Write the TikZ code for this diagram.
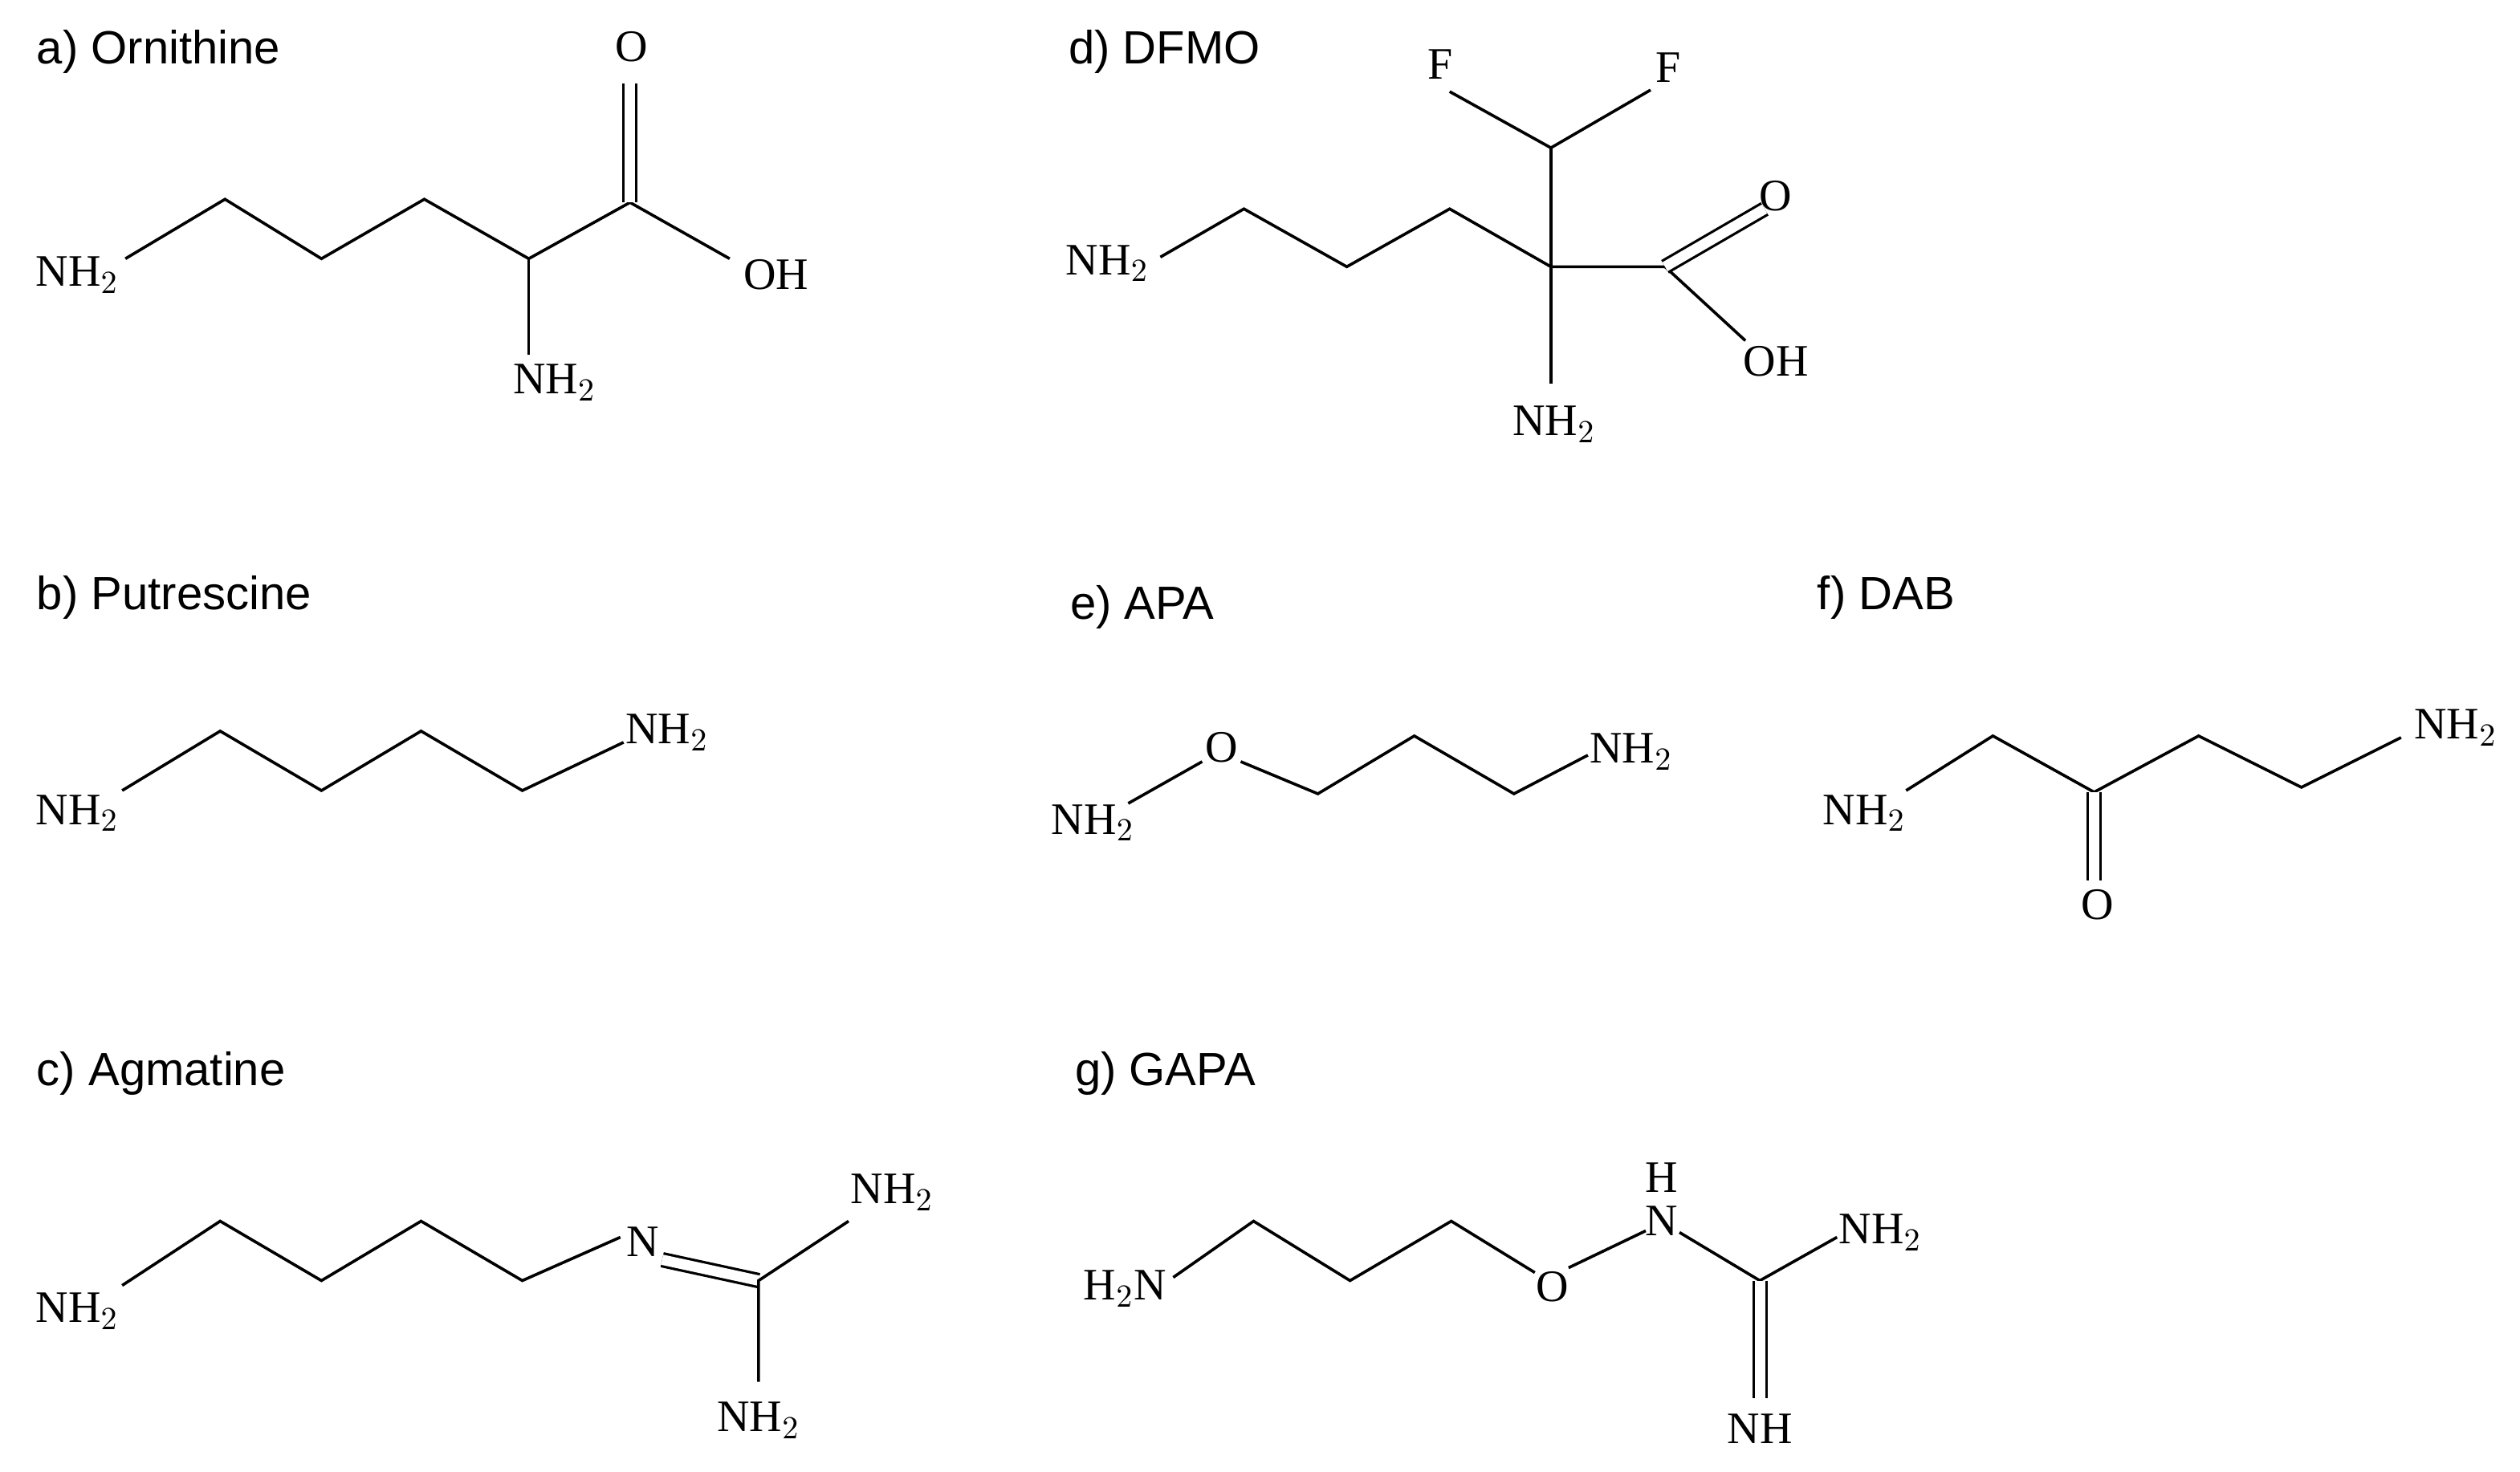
\documentclass[tikz,border=0pt]{standalone}
\usepackage{fontspec}
\setmainfont{Liberation Serif}
\newfontfamily\lblfont{Liberation Sans}
\begin{document}
\begin{tikzpicture}[x=0.5pt,y=-0.5pt,line width=0.9pt,
  atom/.style={inner sep=0pt,font=\fontsize{14}{16}\selectfont},
  lbl/.style={inner sep=0pt,anchor=west,font=\lblfont\fontsize{14.5}{16}\selectfont},
  dbl/.style={double,double distance=3.2pt,line width=0.8pt}]
\useasboundingbox (0,0) rectangle (1568,916);
% a) Ornithine
\node[lbl] (la) at (22,32) {a) Ornithine};
\node[atom] (a1) at (48,171) {NH$_2$};
\node[atom] (aO) at (393,29) {O};
\node[atom] (aOH) at (483,171) {OH};
\node[atom] (aN) at (345,238) {NH$_2$};
\coordinate (a01) at (78,161); \coordinate (a2) at (140,124); \coordinate (a3) at (200,161);
\coordinate (a4) at (264,124); \coordinate (a5) at (329,161); \coordinate (a6) at (392,126);
\coordinate (a7) at (454,161); \coordinate (a8) at (329,221); \coordinate (a9) at (392,52);
\draw (a01)--(a2)--(a3)--(a4)--(a5)--(a6)--(a7);
\draw (a5)--(a8);
\draw[dbl] (a6)--(a9);
% d) DFMO
\node[lbl] (ld) at (664,32) {d) DFMO};
\node[atom] (dF1) at (896,40) {F};
\node[atom] (dF2) at (1038,42) {F};
\node[atom] (dN1) at (689,164) {NH$_2$};
\node[atom] (dO) at (1105,122) {O};
\node[atom] (dOH) at (1105,225) {OH};
\node[atom] (dN2) at (967,264) {NH$_2$};
\coordinate (d1) at (722,160); \coordinate (d2) at (774,130); \coordinate (d3) at (838,166);
\coordinate (d4) at (902,130); \coordinate (dC) at (965,166); \coordinate (dCH) at (965,92);
\coordinate (df1) at (902,57); \coordinate (df2) at (1027,56); \coordinate (dCc) at (1036,166);
\coordinate (dOe) at (1098,130); \coordinate (dOHe) at (1086,212); \coordinate (dNe) at (965,239);
\draw (d1)--(d2)--(d3)--(d4)--(dC)--(dCc)--(dOHe);
\draw (df1)--(dCH)--(df2); \draw (dCH)--(dNe);
\draw[dbl] (dCc)--(dOe);
% b) Putrescine
\node[lbl] (lb) at (22,372) {b) Putrescine};
\node[atom] (b1) at (48,506) {NH$_2$};
\node[atom] (b2) at (415,456) {NH$_2$};
\coordinate (b01) at (76,492); \coordinate (bb2) at (137,455); \coordinate (b3) at (200,492);
\coordinate (b4) at (262,455); \coordinate (b5) at (325,492); \coordinate (b6) at (388,462);
\draw (b01)--(bb2)--(b3)--(b4)--(b5)--(b6);
% e) APA
\node[lbl] (le) at (665,378) {e) APA};
\node[atom] (e1) at (680,512) {NH$_2$};
\node[atom] (eO) at (760,465) {O};
\node[atom] (e2) at (1015,468) {NH$_2$};
\coordinate (e01) at (702,500); \coordinate (e02) at (748,474); \coordinate (e03) at (772,474);
\coordinate (e3) at (820,494); \coordinate (e4) at (880,458); \coordinate (e5) at (942,494);
\coordinate (e6) at (988,470);
\draw (e01)--(e02); \draw (e03)--(e3)--(e4)--(e5)--(e6);
% f) DAB
\node[lbl] (lf) at (1130,372) {f) DAB};
\node[atom] (f1) at (1160,506) {NH$_2$};
\node[atom] (f2) at (1528,453) {NH$_2$};
\node[atom] (fO) at (1305,563) {O};
\coordinate (f01) at (1186,492); \coordinate (ff2) at (1240,458); \coordinate (f3) at (1303,493);
\coordinate (f4) at (1368,458); \coordinate (f5) at (1432,490); \coordinate (f6) at (1494,459);
\coordinate (f7) at (1303,548);
\draw (f01)--(ff2)--(f3)--(f4)--(f5)--(f6);
\draw[dbl] (f3)--(f7);
% c) Agmatine
\node[lbl] (lc) at (22,668) {c) Agmatine};
\node[atom] (c1) at (48,816) {NH$_2$};
\node[atom] (cN) at (400,773) {N};
\node[atom] (c2) at (555,742) {NH$_2$};
\node[atom] (c3) at (472,884) {NH$_2$};
\coordinate (c01) at (76,800); \coordinate (cc2) at (137,760); \coordinate (cc3) at (200,797);
\coordinate (c4) at (262,760); \coordinate (c5) at (325,797); \coordinate (c6) at (386,770);
\coordinate (c7) at (412,784); \coordinate (cC) at (472,797); \coordinate (c8) at (528,760);
\coordinate (c9) at (472,860);
\draw (c01)--(cc2)--(cc3)--(c4)--(c5)--(c6);
\draw[dbl] (c7)--(cC);
\draw (c8)--(cC)--(c9);
% g) GAPA
\node[lbl] (lg) at (668,668) {g) GAPA};
\node[atom] (g1) at (700,802) {H$_2$N};
\node[atom] (gO) at (966,801) {O};
\node[atom] (gN) at (1034,760) {N};
\node[atom] (gH) at (1034,733) {H};
\node[atom] (g2) at (1170,767) {NH$_2$};
\node[atom] (g3) at (1095,889) {NH};
\coordinate (g01) at (730,795); \coordinate (gg2) at (780,760); \coordinate (gg3) at (840,797);
\coordinate (g4) at (903,760); \coordinate (g5) at (955,792); \coordinate (g6) at (976,789);
\coordinate (g7) at (1024,766); \coordinate (g8) at (1045,767); \coordinate (gC) at (1095,797);
\coordinate (g9) at (1143,770); \coordinate (g10) at (1095,870);
\draw (g01)--(gg2)--(gg3)--(g4)--(g5);
\draw (g6)--(g7); \draw (g8)--(gC)--(g9);
\draw[dbl] (gC)--(g10);
\end{tikzpicture}
\end{document}
